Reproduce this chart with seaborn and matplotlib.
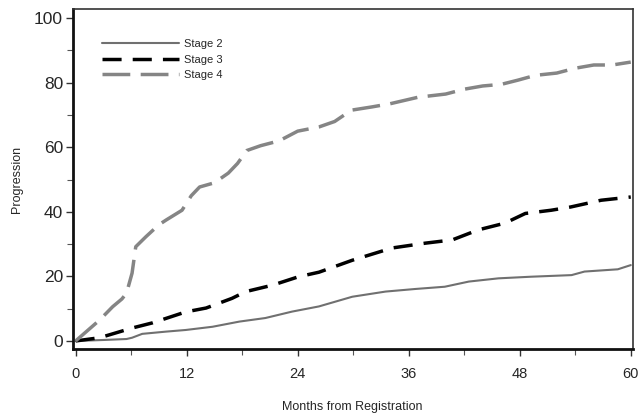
import pandas as pd
import numpy as np
import seaborn as sns
import matplotlib.pyplot as plt

# Values (months, % progression)
months_s2 = [0, 3, 5.5, 6.1, 7.2, 9.8, 11.9, 14.8, 17.7, 20.5, 23.4, 26.3, 29.9, 33.5, 36.7, 39.9, 42.5, 45.7, 49.2, 53.6, 55, 58.6, 60]
stage2 = [0, 0.3, 0.6, 1.0, 2.2, 2.9, 3.4, 4.4, 6.0, 7.1, 9.1, 10.7, 13.7, 15.3, 16.1, 16.8, 18.4, 19.4, 19.9, 20.4, 21.5, 22.2, 23.5]

months_s3 = [0, 2.6, 6.1, 8.3, 11.9, 14.1, 16.9, 18.4, 21.3, 24.1, 26.3, 29.9, 34.2, 37.8, 40.7, 43.5, 46.4, 48.6, 51.4, 53.5, 56.8, 60]
stage3 = [0, 1.0, 4.0, 5.6, 9.0, 10.2, 13.2, 15.3, 17.3, 19.9, 21.3, 25.0, 28.8, 30.3, 31.3, 34.4, 36.5, 39.5, 40.5, 41.5, 43.6, 44.6]

months_s4 = [0, 1, 2.6, 4.0, 5.0, 5.5, 6.1, 6.5, 7.6, 9.0, 9.8, 11.5, 12.5, 13.4, 15, 16.5, 17.5, 18.5, 20, 22, 24, 26.3, 28, 29.8, 32, 34, 37, 40, 42, 44, 46, 47.8, 49.7, 52, 54, 56, 58, 60]
stage4 = [0, 2.5, 6.5, 10.6, 13, 14.8, 21, 29.2, 32.3, 36, 37.5, 40.5, 45, 47.7, 49, 52, 55, 59, 60.5, 62, 65, 66.3, 68, 71.5, 72.5, 73.5, 75.5, 76.5, 78, 79, 79.5, 80.8, 82.3, 83, 84.5, 85.5, 85.5, 86.4]

df = pd.concat([
    pd.DataFrame({'Months': months_s2, 'Progression': stage2, 'Stage': 'Stage 2'}),
    pd.DataFrame({'Months': months_s3, 'Progression': stage3, 'Stage': 'Stage 3'}),
    pd.DataFrame({'Months': months_s4, 'Progression': stage4, 'Stage': 'Stage 4'}),
])

sns.set_style('ticks')
plt.rcParams['font.family'] = ['Liberation Sans', 'DejaVu Sans']

fig = plt.figure(figsize=(6.39, 4.16), dpi=100)
ax = fig.add_axes([0.114, 0.161, 0.876, 0.817])

colors = {'Stage 2': '#707070', 'Stage 3': '#000000', 'Stage 4': '#858585'}
widths = {'Stage 2': 1.5, 'Stage 3': 2.5, 'Stage 4': 2.5}
dash = {'Stage 2': '', 'Stage 3': (5.5, 3.2), 'Stage 4': (8, 3)}

for stage in ['Stage 2', 'Stage 3', 'Stage 4']:
    sub = df[df['Stage'] == stage]
    sns.lineplot(data=sub, x='Months', y='Progression', ax=ax, color=colors[stage],
                 linewidth=widths[stage], label=stage)
    if dash[stage]:
        ax.lines[-1].set_dashes(dash[stage])

ax.set_xlim(-0.3, 60.2)
ax.set_ylim(-2.5, 102.8)
ax.set_xticks([0, 12, 24, 36, 48, 60])
ax.set_xticks([6, 18, 30, 42, 54], minor=True)
ax.set_yticks([0, 20, 40, 60, 80, 100])
ax.set_yticks([10, 30, 50, 70, 90], minor=True)
ax.tick_params(axis='both', which='major', length=5, width=1, color='#333333', direction='out')
ax.tick_params(axis='y', which='major', labelsize=12.5, pad=2)
ax.tick_params(axis='x', which='major', labelsize=10.5, pad=8)
ax.tick_params(axis='both', which='minor', length=4, width=0.8, color='#555555', direction='out')

for side in ['left', 'bottom']:
    ax.spines[side].set_linewidth(2.0)
    ax.spines[side].set_color('#111111')
for side in ['top', 'right']:
    ax.spines[side].set_visible(True)
    ax.spines[side].set_linewidth(1.2)
    ax.spines[side].set_color('#333333')

ax.set_xlabel('Months from Registration', fontsize=9, labelpad=14)
ax.set_ylabel('Progression', fontsize=9, labelpad=8)

leg = ax.legend(loc='upper left', bbox_to_anchor=(0.045, 0.925), frameon=False, fontsize=8,
                handlelength=6.9, handletextpad=0.4, labelspacing=0.5, borderaxespad=0)

fig.savefig('out.png', dpi=100)
